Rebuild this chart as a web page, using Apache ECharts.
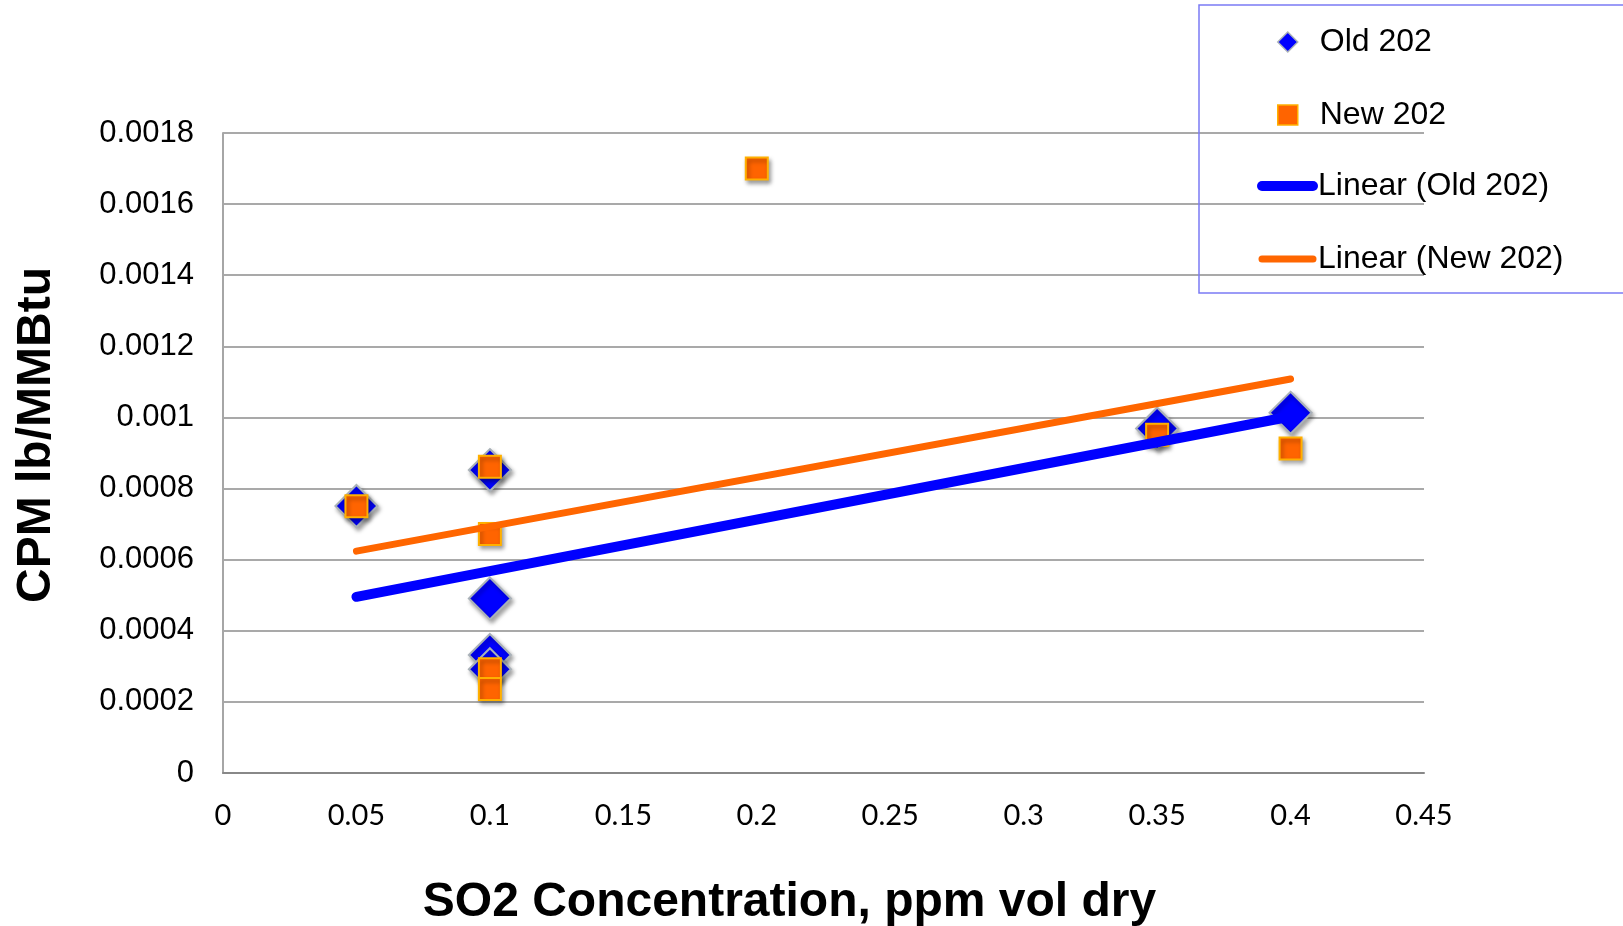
<!DOCTYPE html>
<html>
<head>
<meta charset="utf-8">
<script src="https://cdn.jsdelivr.net/npm/echarts@6/dist/echarts.min.js"></script>
<style>
html,body{margin:0;padding:0;background:#fff;}
#c{width:1623px;height:926px;}
</style>
</head>
<body>
<div id="c"></div>
<script>
// ---- data ----
const seriesNames = ['Old 202', 'New 202', 'Linear (Old 202)', 'Linear (New 202)'];
const oldX = [0.05, 0.1, 0.1, 0.1, 0.1, 0.35, 0.4];
const oldY = [0.000751, 0.000852, 0.000491, 0.000332, 0.000292, 0.000969, 0.001013];
const newX = [0.05, 0.1, 0.1, 0.1, 0.1, 0.2, 0.35, 0.4];
const newY = [0.00075, 0.000861, 0.000672, 0.000292, 0.000236, 0.0017, 0.000951, 0.000913];
const xTickLabels = ['0', '0.05', '0.1', '0.15', '0.2', '0.25', '0.3', '0.35', '0.4', '0.45'];
const yTickLabels = ['0', '0.0002', '0.0004', '0.0006', '0.0008', '0.001', '0.0012', '0.0014', '0.0016', '0.0018'];
const xStep = 0.05, yStep = 0.0002;
const xTitle = 'SO2 Concentration, ppm vol dry';
const yTitle = 'CPM lb/MMBtu';

// ---- helpers ----
function pairs(xs, ys) { return xs.map((x, i) => [x, ys[i]]); }
function linearTrend(xs, ys) {
  const n = xs.length;
  const mx = xs.reduce((a, b) => a + b, 0) / n;
  const my = ys.reduce((a, b) => a + b, 0) / n;
  let sxx = 0, sxy = 0;
  for (let i = 0; i < n; i++) { sxx += (xs[i] - mx) ** 2; sxy += (xs[i] - mx) * (ys[i] - my); }
  const b = sxy / sxx, a = my - b * mx;
  const x0 = Math.min(...xs), x1 = Math.max(...xs);
  return [[x0, a + b * x0], [x1, a + b * x1]];
}

const chart = echarts.init(document.getElementById('c'), null, { renderer: 'canvas' });
const shadow = { shadowColor: 'rgba(0,0,0,0.35)', shadowBlur: 4, shadowOffsetX: 2, shadowOffsetY: 3 };
const legendFont = { fontFamily: 'Liberation Sans, Arial, sans-serif', fontSize: 32, color: '#000', lineHeight: 31 };
const noShadow = { shadowBlur: 0, shadowOffsetX: 0, shadowOffsetY: 0, shadowColor: 'rgba(0,0,0,0)' };

chart.setOption({
  animation: false,
  backgroundColor: '#fff',
  grid: { left: 223, right: 199, top: 133, bottom: 153, containLabel: false, outerBoundsMode: 'none' },
  legend: [
    {
      // marker entries; its box frames the whole legend
      orient: 'vertical',
      left: 1199,
      top: 5,
      padding: [21, 400, 162, 78],
      itemWidth: 20,
      itemHeight: 20,
      itemGap: 41,
      itemTextGap: 5,
      borderColor: '#7b7bf5',
      borderWidth: 1.5,
      textStyle: Object.assign({ padding: [0, 0, 0, 17] }, legendFont),
      data: [
        { name: seriesNames[0], itemStyle: Object.assign({ borderWidth: 1.5, borderColor: '#a9b1b8' }, noShadow) },
        { name: seriesNames[1], itemStyle: Object.assign({ borderWidth: 1.5, borderColor: '#ffb000' }, noShadow) }
      ]
    },
    {
      // trend line entries
      orient: 'vertical',
      left: 1257,
      top: 170,
      padding: 0,
      itemWidth: 51,
      itemHeight: 20,
      itemGap: 41,
      itemTextGap: 6,
      textStyle: legendFont,
      data: [
        { name: seriesNames[2], itemStyle: { color: 'rgba(0,0,0,0)', borderWidth: 0, shadowBlur: 0 }, lineStyle: { width: 10, cap: 'round', color: '#0000ff' } },
        { name: seriesNames[3], itemStyle: { color: 'rgba(0,0,0,0)', borderWidth: 0, shadowBlur: 0 }, lineStyle: { width: 7, cap: 'round', color: '#ff6600' } }
      ]
    }
  ],
  xAxis: {
    type: 'value',
    min: 0, max: 0.45, interval: xStep,
    name: xTitle,
    nameLocation: 'middle',
    nameGap: 106,
    nameTextStyle: { fontFamily: 'Liberation Sans, Arial, sans-serif', fontSize: 48, fontWeight: 'bold', color: '#000', padding: [0, 68, 0, 0] },
    axisLine: { show: true, lineStyle: { color: '#888888', width: 2 } },
    axisTick: { show: false },
    splitLine: { show: false },
    axisLabel: {
      margin: 28,
      fontFamily: 'Lato, "Open Sans", sans-serif', fontSize: 29, color: '#000',
      formatter: v => xTickLabels[Math.round(v / xStep)]
    }
  },
  yAxis: {
    type: 'value',
    min: 0, max: 0.0018, interval: yStep,
    name: yTitle,
    nameLocation: 'middle',
    nameGap: 162,
    nameTextStyle: { fontFamily: 'Liberation Sans, Arial, sans-serif', fontSize: 48, fontWeight: 'bold', color: '#000', padding: [0, 0, 0, 36] },
    axisLine: { show: true, lineStyle: { color: '#a6a6a6', width: 2 } },
    axisTick: { show: false },
    splitLine: { show: true, lineStyle: { color: '#8c8c8c', width: 1.5 } },
    axisLabel: {
      margin: 29,
      fontFamily: 'Liberation Sans, Arial, sans-serif', fontSize: 31, color: '#000',
      formatter: v => yTickLabels[Math.round(v / yStep)]
    }
  },
  series: [
    {
      name: seriesNames[0], type: 'scatter', data: pairs(oldX, oldY),
      symbol: 'diamond', symbolSize: 42, symbolKeepAspect: true,
      itemStyle: Object.assign({ color: '#0000ff', borderColor: '#a9b1b8', borderWidth: 2, opacity: 1 }, shadow),
      z: 2
    },
    {
      name: seriesNames[1], type: 'scatter', data: pairs(newX, newY),
      symbol: 'rect', symbolSize: 22, symbolKeepAspect: true,
      itemStyle: Object.assign({ color: '#ff6400', borderColor: '#ffb000', borderWidth: 2, opacity: 1 }, shadow),
      z: 3
    },
    {
      name: seriesNames[2], type: 'line', data: linearTrend(oldX, oldY),
      symbol: 'none', showSymbol: false,
      lineStyle: { color: '#0000ff', width: 10, cap: 'round' },
      itemStyle: { color: '#0000ff' },
      z: 5
    },
    {
      name: seriesNames[3], type: 'line', data: linearTrend(newX, newY),
      symbol: 'none', showSymbol: false,
      lineStyle: { color: '#ff6600', width: 7, cap: 'round' },
      itemStyle: { color: '#ff6600' },
      z: 4
    }
  ]
});
</script>
</body>
</html>
